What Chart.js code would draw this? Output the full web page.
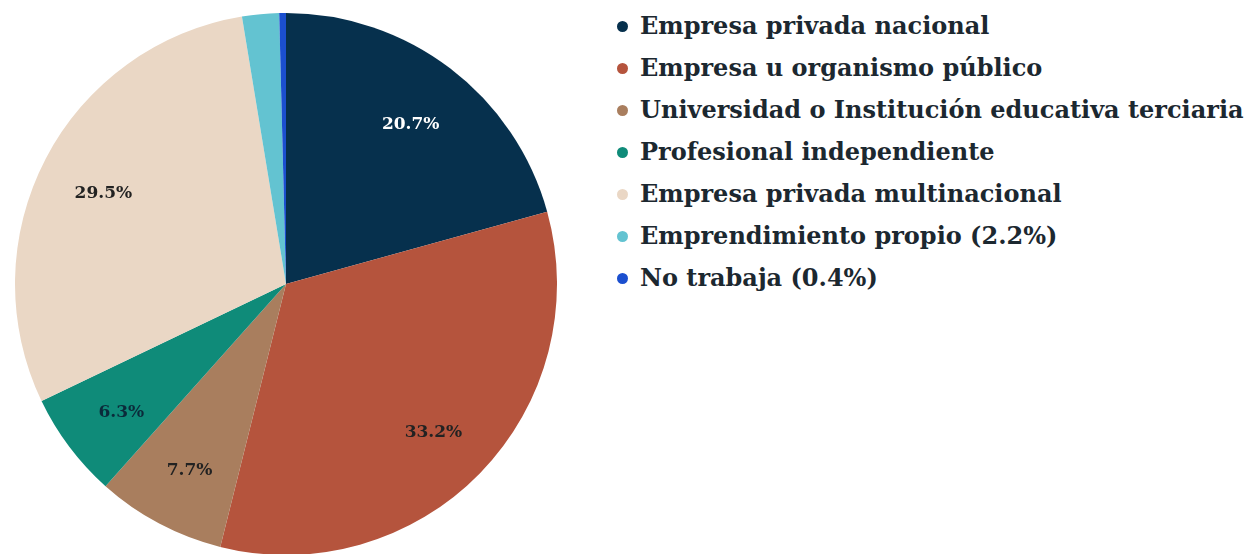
<!DOCTYPE html>
<html>
<head>
<meta charset="utf-8">
<script src="https://cdn.jsdelivr.net/npm/chart.js@4"></script>
<style>
  html, body { margin: 0; padding: 0; background: #ffffff; overflow: hidden; }
  body { width: 1255px; height: 554px; position: relative; }
  #pieBox { position: absolute; left: 15px; top: 13px; width: 542px; height: 542px; }
  #legend { position: absolute; left: 613px; top: 6px; margin: 0; padding: 0; list-style: none;
    font-family: 'DejaVu Serif', 'Liberation Serif', serif; font-weight: bold; font-size: 24px; color: #1c2830; }
  #legend li { height: 42px; line-height: 40px; white-space: nowrap; }
  #legend span.dot { display: inline-block; width: 11px; height: 11px; border-radius: 50%; margin: 0 12px 3px 4px; vertical-align: middle; }
</style>
</head>
<body>
<div id="pieBox"><canvas id="pie"></canvas></div>
<ul id="legend"></ul>
<script>
// categories, in drawing order (clockwise from the top)
const categories = [
    'Empresa privada nacional',
    'Empresa u organismo público',
    'Universidad o Institución educativa terciaria',
    'Profesional independiente',
    'Empresa privada multinacional',
    'Emprendimiento propio (2.2%)',
    'No trabaja (0.4%)'
];
const shares = [20.7, 33.2, 7.7, 6.3, 29.5, 2.2, 0.4];
const sliceColors = ['#06304d', '#b5543d', '#a97e5e', '#0f8b79', '#ead7c5', '#63c3d1', '#1b4fcf'];
// label text colour per slice, null = no label inside
const labelColors = ['#ffffff', '#222222', '#222222', '#0b2a3a', '#222222', null, null];

// legend is plain html, built from the same arrays
const legendEl = document.getElementById('legend');
categories.forEach((name, i) => {
    const li = document.createElement('li');
    const dot = document.createElement('span');
    dot.className = 'dot';
    dot.style.background = sliceColors[i];
    li.appendChild(dot);
    li.appendChild(document.createTextNode(name));
    legendEl.appendChild(li);
});

// simple in-slice percentage labels (no datalabels plugin offline)
const sliceLabels = {
    id: 'sliceLabels',
    afterDatasetsDraw(chart) {
        const ctx = chart.ctx;
        const meta = chart.getDatasetMeta(0);
        ctx.save();
        ctx.font = 'bold 17px "DejaVu Serif", serif';
        ctx.textAlign = 'center';
        ctx.textBaseline = 'middle';
        meta.data.forEach((arc, i) => {
            if (!labelColors[i]) {
                return;
            }
            const p = arc.getProps(['x', 'y', 'startAngle', 'endAngle', 'outerRadius'], true);
            const mid = (p.startAngle + p.endAngle) / 2;
            const r = p.outerRadius * 0.76;
            ctx.fillStyle = labelColors[i];
            ctx.fillText(shares[i].toFixed(1) + '%', p.x + Math.cos(mid) * r, p.y + Math.sin(mid) * r + 5);
        });
        ctx.restore();
    }
};

new Chart(document.getElementById('pie'), {
    type: 'pie',
    data: {
        labels: categories,
        datasets: [{
            data: shares,
            backgroundColor: sliceColors,
            borderWidth: 0
        }]
    },
    options: {
        responsive: true,
        maintainAspectRatio: false,
        animation: false,
        layout: { padding: 0 },
        plugins: {
            legend: { display: false },
            tooltip: { enabled: false }
        }
    },
    plugins: [sliceLabels]
});
</script>
</body>
</html>
